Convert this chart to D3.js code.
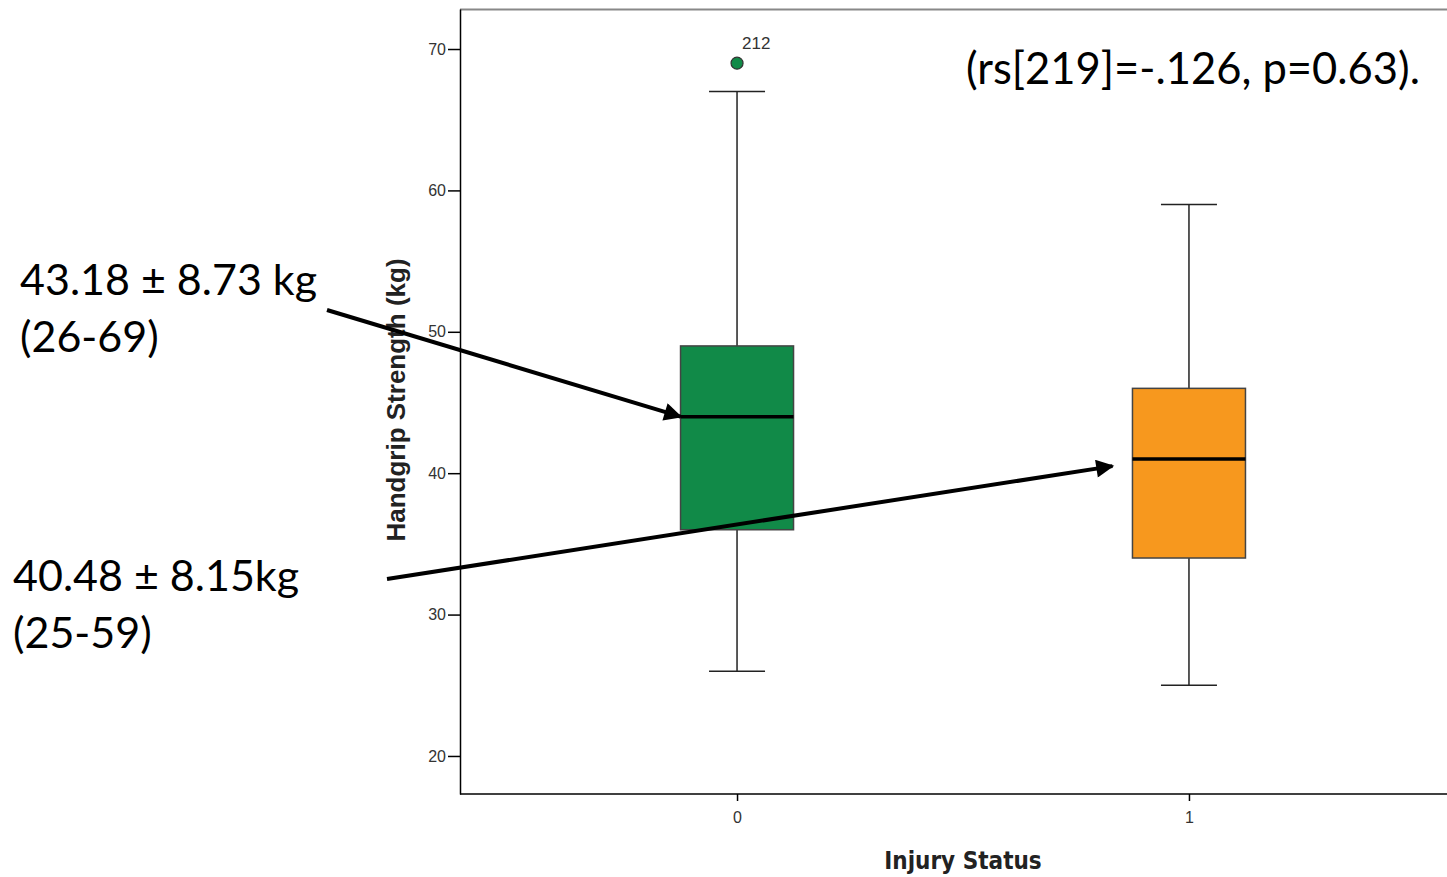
<!DOCTYPE html>
<html><head><meta charset="utf-8">
<script src="https://cdn.jsdelivr.net/npm/d3@7"></script>
<style>body{margin:0;background:#fff}svg{display:block}</style>
</head><body>
<svg id="c" width="1447" height="877"></svg>
<script>
const categories = ["0", "1"];
const whiskerLow = [26, 25];
const q1 = [36, 34];
const median = [44, 41];
const q3 = [49, 46];
const whiskerHigh = [67, 59];
const outliers = [{cat: "0", value: 69, label: "212"}];
const yTicks = [20, 30, 40, 50, 60, 70];
const colors = ["#118a48", "#f7981e"];
const annotations = [
  {lines: ["43.18 ± 8.73 kg", "(26-69)"], from: "0"},
  {lines: ["40.48 ± 8.15kg", "(25-59)"], from: "1"}
];
const statText = "(rs[219]=-.126, p=0.63).";

const svg = d3.select("#c");
const x = d3.scalePoint().domain(categories).range([460, 1466]).padding(0.613);
const y = d3.scaleLinear().domain([17.31, 72.83]).range([794, 9]);

// frame top
svg.append("line").attr("x1", 460).attr("x2", 1447).attr("y1", 9.5).attr("y2", 9.5)
  .attr("stroke", "#888").attr("stroke-width", 2);

// y axis
const ya = svg.append("g").attr("transform", "translate(460,0)")
  .call(d3.axisLeft(y).tickValues(yTicks).tickSize(12).tickPadding(2).tickSizeOuter(0));
ya.select(".domain").attr("stroke", "#000").attr("stroke-width", 1.5);
ya.selectAll(".tick line").attr("stroke", "#000").attr("stroke-width", 1.5);
ya.selectAll(".tick text").attr("font-family", "Liberation Sans, Arial, sans-serif").attr("font-size", 16).attr("fill", "#333");

// x axis
const xa = svg.append("g").attr("transform", "translate(0,794)")
  .call(d3.axisBottom(x).tickSize(7).tickPadding(11).tickSizeOuter(0));
xa.select(".domain").attr("d", "M460,0H1447").attr("stroke", "#000").attr("stroke-width", 1.5);
xa.selectAll(".tick line").attr("stroke", "#000").attr("stroke-width", 1.5);
xa.selectAll(".tick text").attr("font-family", "Liberation Sans, Arial, sans-serif").attr("font-size", 16).attr("fill", "#333");

// axis titles
svg.append("text").attr("x", 963).attr("y", 869).attr("text-anchor", "middle")
  .attr("font-family", "DejaVu Sans Condensed, Liberation Sans Narrow, sans-serif").attr("font-weight", "bold")
  .attr("font-size", 24).attr("fill", "#222").text("Injury Status");
svg.append("text").attr("transform", "translate(405,400) rotate(-90)").attr("text-anchor", "middle")
  .attr("font-family", "Liberation Sans, Arial, sans-serif").attr("font-weight", "bold")
  .attr("font-size", 26).attr("fill", "#222").text("Handgrip Strength (kg)");

// boxes
const boxW = 113, capW = 56;
categories.forEach((c, i) => {
  const cx = x(c);
  const g = svg.append("g");
  g.append("line").attr("x1", cx).attr("x2", cx).attr("y1", y(whiskerHigh[i])).attr("y2", y(q3[i])).attr("stroke", "#222").attr("stroke-width", 1.5);
  g.append("line").attr("x1", cx).attr("x2", cx).attr("y1", y(q1[i])).attr("y2", y(whiskerLow[i])).attr("stroke", "#222").attr("stroke-width", 1.5);
  g.append("line").attr("x1", cx - capW/2).attr("x2", cx + capW/2).attr("y1", y(whiskerHigh[i])).attr("y2", y(whiskerHigh[i])).attr("stroke", "#222").attr("stroke-width", 1.5);
  g.append("line").attr("x1", cx - capW/2).attr("x2", cx + capW/2).attr("y1", y(whiskerLow[i])).attr("y2", y(whiskerLow[i])).attr("stroke", "#222").attr("stroke-width", 1.5);
  g.append("rect").attr("x", cx - boxW/2).attr("width", boxW).attr("y", y(q3[i])).attr("height", y(q1[i]) - y(q3[i]))
    .attr("fill", colors[i]).attr("stroke", "#444").attr("stroke-width", 1.5);
  g.append("line").attr("x1", cx - boxW/2).attr("x2", cx + boxW/2).attr("y1", y(median[i])).attr("y2", y(median[i])).attr("stroke", "#000").attr("stroke-width", 3.5);
});

// outliers
outliers.forEach(o => {
  const i = categories.indexOf(o.cat);
  svg.append("circle").attr("cx", x(o.cat)).attr("cy", y(o.value)).attr("r", 6).attr("fill", colors[i]).attr("stroke", "#333").attr("stroke-width", 1.2);
  svg.append("text").attr("x", x(o.cat) + 5).attr("y", y(o.value) - 14).attr("font-family", "Liberation Sans, Arial, sans-serif")
    .attr("font-size", 17).attr("fill", "#333").text(o.label);
});

// annotations
const annFont = "Lato, Open Sans, sans-serif";
const annPos = [{x: 20, y: 295}, {x: 13, y: 591}];
annotations.forEach((a, k) => {
  a.lines.forEach((t, j) => {
    svg.append("text").attr("x", annPos[k].x).attr("y", annPos[k].y + j * 57).attr("font-family", annFont)
      .attr("font-size", 43).attr("fill", "#000").text(t);
  });
});
svg.append("text").attr("x", 966).attr("y", 84).attr("font-family", annFont).attr("font-size", 43.5).attr("fill", "#000").text(statText);

// arrows
svg.append("defs").append("marker").attr("id", "ah").attr("viewBox", "0 0 10 10").attr("refX", 9).attr("refY", 5)
  .attr("markerWidth", 5.5).attr("markerHeight", 4.5).attr("markerUnits", "strokeWidth").attr("orient", "auto")
  .append("path").attr("d", "M0,0L10,5L0,10Z").attr("fill", "#000");
const arrows = [
  {x1: 327, y1: 310, x2: x("0") - boxW/2, v: median[0]},
  {x1: 387, y1: 579, x2: x("1") - boxW/2 - 20, v: 40.5}
];
arrows.forEach(a => {
  svg.append("line").attr("x1", a.x1).attr("y1", a.y1).attr("x2", a.x2).attr("y2", y(a.v))
    .attr("stroke", "#000").attr("stroke-width", 4).attr("marker-end", "url(#ah)");
});
</script>
</body></html>
